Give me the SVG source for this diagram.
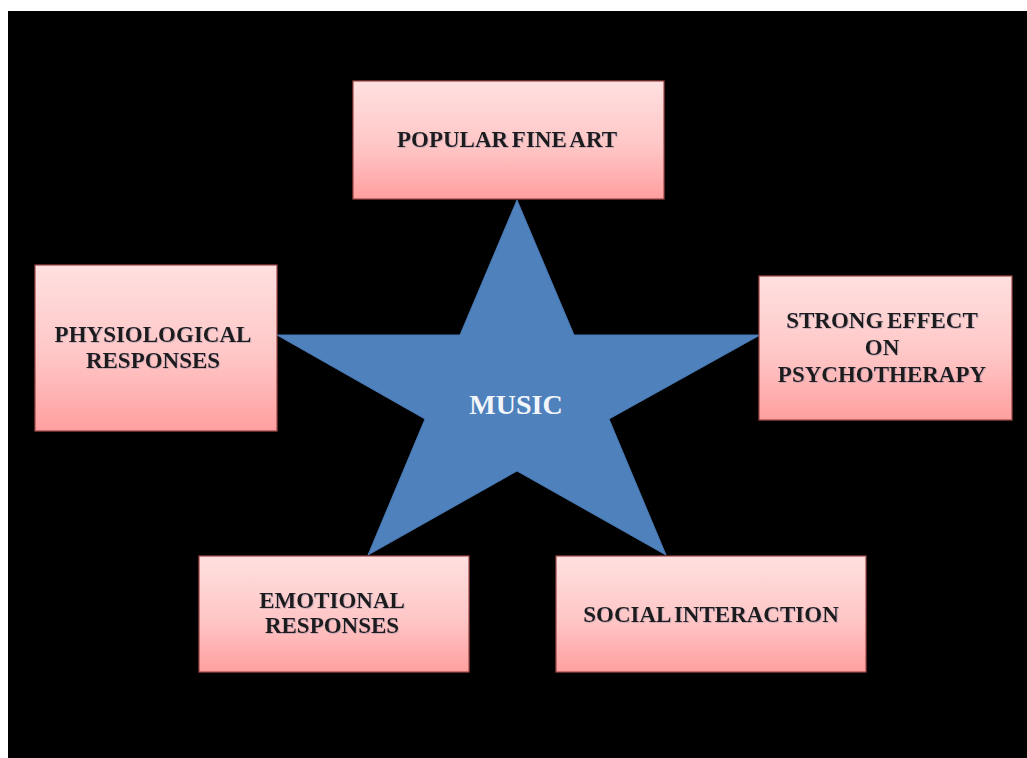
<svg xmlns="http://www.w3.org/2000/svg" width="1027" height="758" viewBox="0 0 1027 758">
<defs>
<linearGradient id="pink" x1="0" y1="0" x2="0" y2="1">
<stop offset="0" stop-color="#ffe0e0"/>
<stop offset="0.55" stop-color="#ffc6c6"/>
<stop offset="1" stop-color="#ff9f9f"/>
</linearGradient>
<filter id="ts" x="-5%" y="-20%" width="110%" height="140%">
<feDropShadow dx="0.8" dy="0.8" stdDeviation="0.5" flood-color="#7a7a9a" flood-opacity="0.45"/>
</filter>
</defs>
<style>
.box{fill:url(#pink);stroke:#a04848;stroke-width:1.2}
.lbl{font-family:"Liberation Serif","Times New Roman",serif;font-weight:bold;font-size:23px;fill:#1e1a1e;text-anchor:middle;word-spacing:-2px}
.center{font-family:"Liberation Serif","Times New Roman",serif;font-weight:bold;font-size:28px;fill:#f2f6fb;text-anchor:middle}
</style>
<rect x="0" y="0" width="1027" height="758" fill="#ffffff"/>
<rect x="8" y="11" width="1019" height="747" fill="#000000"/>
<g id="connectors"></g>
<g id="music">
<polygon points="517,200 574,335 760,335 609,419 666,555 517,471 368,555 425,419 277,335 460,335" fill="#4f81bd" stroke="#4a7ab5" stroke-width="1"/>
<text class="center" x="516" y="414">MUSIC</text>
</g>
<g id="popular-fine-art">
<rect class="box" x="353" y="81" width="311" height="118"/>
<text class="lbl" x="507" y="147" filter="url(#ts)">POPULAR FINE ART</text>
</g>
<g id="physiological-responses">
<rect class="box" x="35" y="265" width="242" height="166"/>
<text class="lbl" x="153" y="342" filter="url(#ts)">PHYSIOLOGICAL</text>
<text class="lbl" x="153" y="368" filter="url(#ts)">RESPONSES</text>
</g>
<g id="strong-effect">
<rect class="box" x="759" y="276" width="253" height="144"/>
<text class="lbl" x="882" y="328" filter="url(#ts)">STRONG EFFECT</text>
<text class="lbl" x="882" y="355" filter="url(#ts)">ON</text>
<text class="lbl" x="882" y="382" filter="url(#ts)">PSYCHOTHERAPY</text>
</g>
<g id="emotional-responses">
<rect class="box" x="199" y="556" width="270" height="116"/>
<text class="lbl" x="332" y="608" filter="url(#ts)">EMOTIONAL</text>
<text class="lbl" x="332" y="633" filter="url(#ts)">RESPONSES</text>
</g>
<g id="social-interaction">
<rect class="box" x="556" y="556" width="310" height="116"/>
<text class="lbl" x="711" y="622" filter="url(#ts)">SOCIAL INTERACTION</text>
</g>
</svg>
